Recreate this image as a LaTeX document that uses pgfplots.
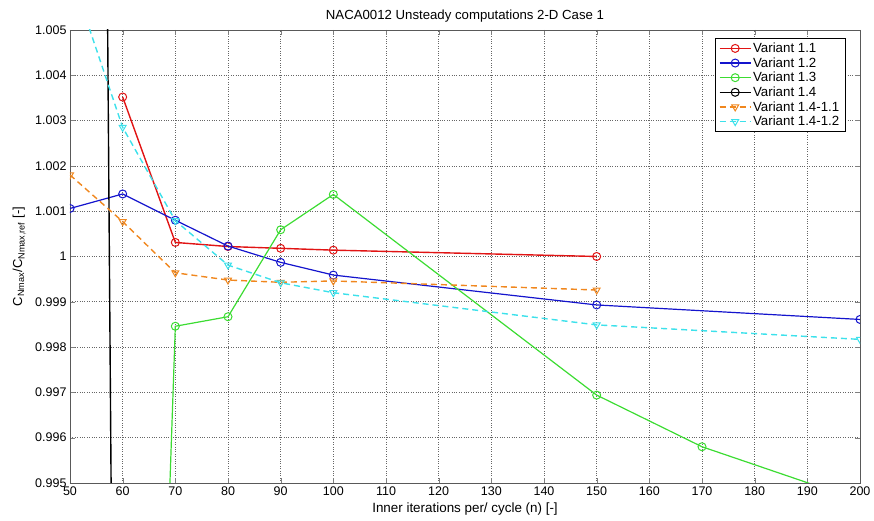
\documentclass[border=0pt]{standalone}
\usepackage{pgfplots}
\pgfplotsset{compat=1.18}
\usepackage{fontspec}
\setmainfont{Liberation Sans}
\definecolor{cred}{RGB}{225,20,20}
\definecolor{cblue}{RGB}{20,20,205}
\definecolor{cgreen}{RGB}{60,220,50}
\definecolor{corange}{RGB}{240,135,30}
\definecolor{ccyan}{RGB}{60,225,235}
\begin{document}
\begin{tikzpicture}
\begin{axis}[
  at={(0pt,0pt)}, anchor=south west,
  scale only axis, width=790pt, height=453pt,
  xmin=50, xmax=200, ymin=0.995, ymax=1.005,
  xtick={50,60,...,200},
  ytick={0.995,0.996,0.997,0.998,0.999,1,1.001,1.002,1.003,1.004,1.005},
  yticklabels={0.995,0.996,0.997,0.998,0.999,1,1.001,1.002,1.003,1.004,1.005},
  scaled y ticks=false, scaled x ticks=false,
  /pgf/number format/assume math mode=true,
  tick label style={font=\fontsize{12.5}{14}\selectfont},
  tick align=inside, tick pos=both,
  major tick length=5pt,
  axis line style={gray!70!black, line width=0.8pt},
  grid=major,
  major grid style={black!60, dotted, line width=0.6pt},
  title={NACA0012 Unsteady computations 2-D Case 1},
  title style={font=\fontsize{13.2}{15}\selectfont, yshift=-2pt},
  xlabel={Inner iterations per/ cycle (n) [-]},
  xlabel style={font=\fontsize{13.4}{15}\selectfont, yshift=-1pt},
  ylabel={C$_{\mathrm{Nmax}}$/C$_{\mathrm{Nmax,ref}}$ [-]},
  ylabel style={font=\fontsize{13}{15}\selectfont, yshift=2pt},
  clip marker paths=true,
  legend style={at={(0.981,0.982)}, anchor=north east, draw=black, fill=white,
    font=\fontsize{13.3}{15}\selectfont, row sep=0.5pt, inner xsep=4pt, inner ysep=3pt,
    nodes={inner sep=1.5pt}},
  legend image post style={},
  legend cell align=left,
  every axis legend/.append style={/tikz/every even column/.append style={column sep=2pt}},
  legend image code/.code={
    \draw[mark repeat=2,mark phase=2] plot coordinates {(0cm,0cm) (0.55cm,0cm) (1.1cm,0cm)};},
  every axis plot/.append style={mark size=4pt},
]
\addplot[cred, line width=1.4pt, mark=o, mark options={solid,line width=1pt}] coordinates {
 (60,1.00352) (70,1.00031) (80,1.00022) (90,1.00018) (100,1.00014) (150,1.00000)};
\addlegendentry{Variant 1.1}
\addplot[cblue, line width=1.2pt, mark=o, mark options={solid,line width=1pt}] coordinates {
 (50,1.00106) (60,1.00138) (70,1.00080) (80,1.00023) (90,0.99987) (100,0.99959) (150,0.99893) (200,0.99861)};
\addlegendentry{Variant 1.2}
\addplot[cgreen, line width=1.2pt, mark=o, mark options={solid,line width=1pt}] coordinates {
 (60,0.9647) (70,0.99846) (80,0.99867) (90,1.00059) (100,1.00137) (150,0.99694) (170,0.99580) (200,0.99461)};
\addlegendentry{Variant 1.3}
\addplot[black, line width=1.4pt, mark=o, mark options={solid,line width=1pt}] coordinates {
 (50,1.1150) (60,0.9612)};
\addlegendentry{Variant 1.4}
\addplot[corange, line width=1.4pt, dashed, dash pattern=on 6pt off 4pt, mark=triangle, mark options={solid,line width=1pt,rotate=180}] coordinates {
 (50,1.00180) (60,1.00077) (70,0.99964) (80,0.99948) (90,0.99943) (100,0.99946) (150,0.99926)};
\addlegendentry{Variant 1.4-1.1}
\addplot[ccyan, line width=1.4pt, dashed, dash pattern=on 6pt off 4pt, mark=triangle, mark options={solid,line width=1pt,rotate=180}] coordinates {
 (50,1.0063) (60,1.00285) (70,1.00079) (80,0.99981) (90,0.99942) (100,0.99920) (150,0.99849) (200,0.99817)};
\addlegendentry{Variant 1.4-1.2}
\end{axis}
\path[use as bounding box] (-70pt,-37pt) rectangle (804pt,483pt);
\end{tikzpicture}
\end{document}
